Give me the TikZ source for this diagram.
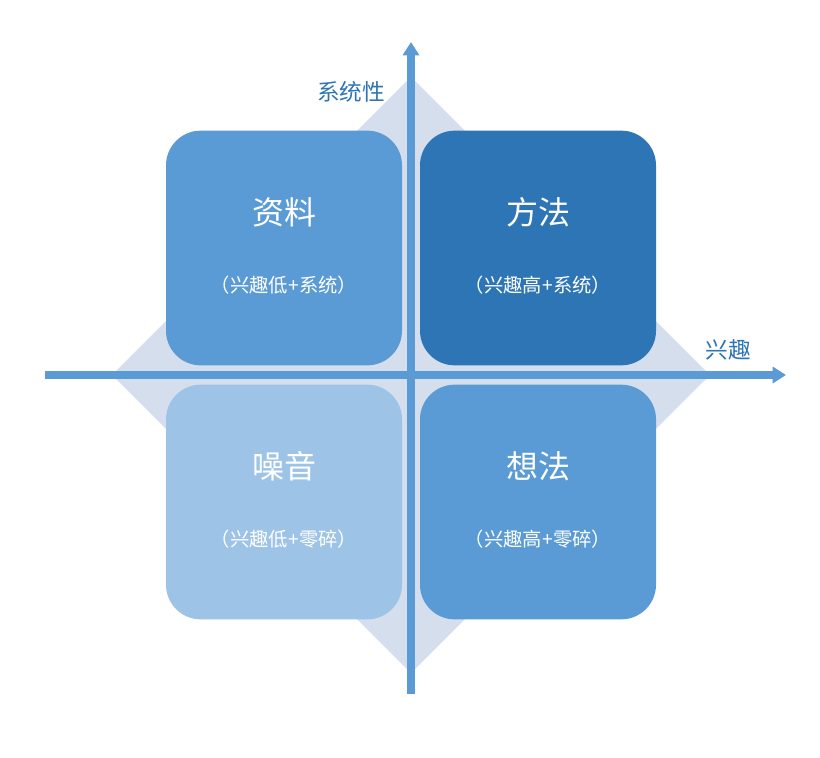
\documentclass[tikz,border=0pt]{standalone}
\usepackage{fontspec}
\setmainfont{Noto Sans CJK SC}
\usetikzlibrary{arrows.meta}
\definecolor{mid}{HTML}{5B9BD5}
\definecolor{dark}{HTML}{2E75B6}
\definecolor{light}{HTML}{9DC3E6}
\definecolor{dia}{HTML}{D5DEEC}
\begin{document}
\begin{tikzpicture}[x=0.75pt,y=-0.75pt,
  quad/.style={rounded corners=26pt,minimum width=177pt,minimum height=176pt,inner sep=0pt,text=white,align=center},
  axis/.style={mid,line width=5.5pt,-{Triangle[length=10pt,width=12pt]}},
  lab/.style={text=dark,font=\fontsize{17}{20}\selectfont}]
\useasboundingbox (0,0) rectangle (820,757);
\fill[dia] (411,77) -- (710,375) -- (411,673) -- (112,375) -- cycle;
\node[quad,fill=mid] (tl) at (284,248) {};
\node[quad,fill=dark] (tr) at (538,248) {};
\node[quad,fill=light] (bl) at (284,502) {};
\node[quad,fill=mid] (br) at (538,502) {};
\foreach \n/\a/\b in {tl/资料/（兴趣低+系统）,tr/方法/（兴趣高+系统）,bl/噪音/（兴趣低+零碎）,br/想法/（兴趣高+零碎）}{
  \node[text=white,font=\fontsize{24}{28}\selectfont] at ([yshift=27pt]\n.center) {\a};
  \node[text=white,font=\fontsize{14.5}{17}\selectfont] at ([yshift=-28pt]\n.center) {\b};
}
\coordinate (hl) at (45,375); \coordinate (hr) at (786,375);
\coordinate (vb) at (411,694); \coordinate (vt) at (411,42);
\draw[axis] (hl) -- (hr);
\draw[axis] (vb) -- (vt);
\node[lab] (ly) at (351,92) {系统性};
\node[lab] (lx) at (728,350) {兴趣};
\end{tikzpicture}
\end{document}
